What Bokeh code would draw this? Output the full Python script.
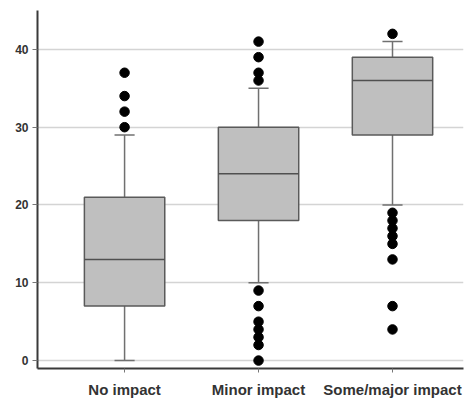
from bokeh.plotting import figure
from bokeh.models import Range1d, FixedTicker, ColumnDataSource
from bokeh.embed import file_html
from bokeh.resources import INLINE

categories = ["No impact", "Minor impact", "Some/major impact"]
q1 = [7, 18, 29]
median = [13, 24, 36]
q3 = [21, 30, 39]
whisker_low = [0, 10, 20]
whisker_high = [29, 35, 41]
outliers_no = [30, 32, 34, 37]
outliers_minor = [36, 37, 39, 41, 9, 7, 5, 4, 3, 2, 0]
outliers_some = [42, 19, 18, 17, 16, 15, 13, 7, 4]
y_ticks = [0, 10, 20, 30, 40]

xs = list(range(len(categories)))
box_half = 0.3
cap_half = 0.075

p = figure(width=465, height=400, output_backend="svg", toolbar_location=None,
           x_range=Range1d(-0.65, 2.53), y_range=Range1d(-1.02, 45),
           min_border_left=37, min_border_right=2, min_border_top=10, min_border_bottom=30)
p.outline_line_color = None
p.background_fill_color = "white"

# grid
p.xgrid.grid_line_color = None
p.ygrid.grid_line_color = "#d4d4d4"
p.ygrid.grid_line_width = 1.5

# axes
p.yaxis.ticker = FixedTicker(ticks=y_ticks)
p.xaxis.ticker = FixedTicker(ticks=xs)
p.xaxis.major_label_overrides = {i: c for i, c in enumerate(categories)}
for ax in (p.xaxis[0], p.yaxis[0]):
    ax.axis_line_color = "#3a3a3a"
    ax.axis_line_width = 2
    ax.minor_tick_line_color = None
    ax.major_tick_in = 0
    ax.major_tick_line_color = "#777777"
    ax.major_label_text_font = "Liberation Sans"
    ax.major_label_text_font_style = "bold"
    ax.major_label_text_color = "#333333"
p.yaxis.major_tick_out = 5
p.yaxis.major_label_standoff = 4
p.yaxis.major_label_text_font_size = "12px"
p.xaxis.major_tick_out = 4
p.xaxis.major_label_standoff = 8
p.xaxis.major_label_text_font_size = "15px"

src = ColumnDataSource(dict(
    x=xs,
    left=[x - box_half for x in xs],
    right=[x + box_half for x in xs],
    cl=[x - cap_half for x in xs],
    cr=[x + cap_half for x in xs],
    q1=q1, q3=q3, med=median, lo=whisker_low, hi=whisker_high,
))

# whiskers
p.segment(x0="x", y0="q3", x1="x", y1="hi", source=src, line_color="#707070", line_width=1.5)
p.segment(x0="x", y0="q1", x1="x", y1="lo", source=src, line_color="#707070", line_width=1.5)
p.segment(x0="cl", y0="hi", x1="cr", y1="hi", source=src, line_color="#707070", line_width=1.5)
p.segment(x0="cl", y0="lo", x1="cr", y1="lo", source=src, line_color="#707070", line_width=1.5)

# boxes
p.quad(left="left", right="right", bottom="q1", top="q3", source=src,
       fill_color="#bfbfbf", line_color="#5a5a5a", line_width=1.5)
p.segment(x0="left", y0="med", x1="right", y1="med", source=src, line_color="#505050", line_width=1.5)

# outliers
ox = [0] * len(outliers_no) + [1] * len(outliers_minor) + [2] * len(outliers_some)
oy = outliers_no + outliers_minor + outliers_some
p.scatter(ox, oy, size=9.5, fill_color="black", line_color="black")

open("out.html", "w").write(file_html(p, INLINE))
